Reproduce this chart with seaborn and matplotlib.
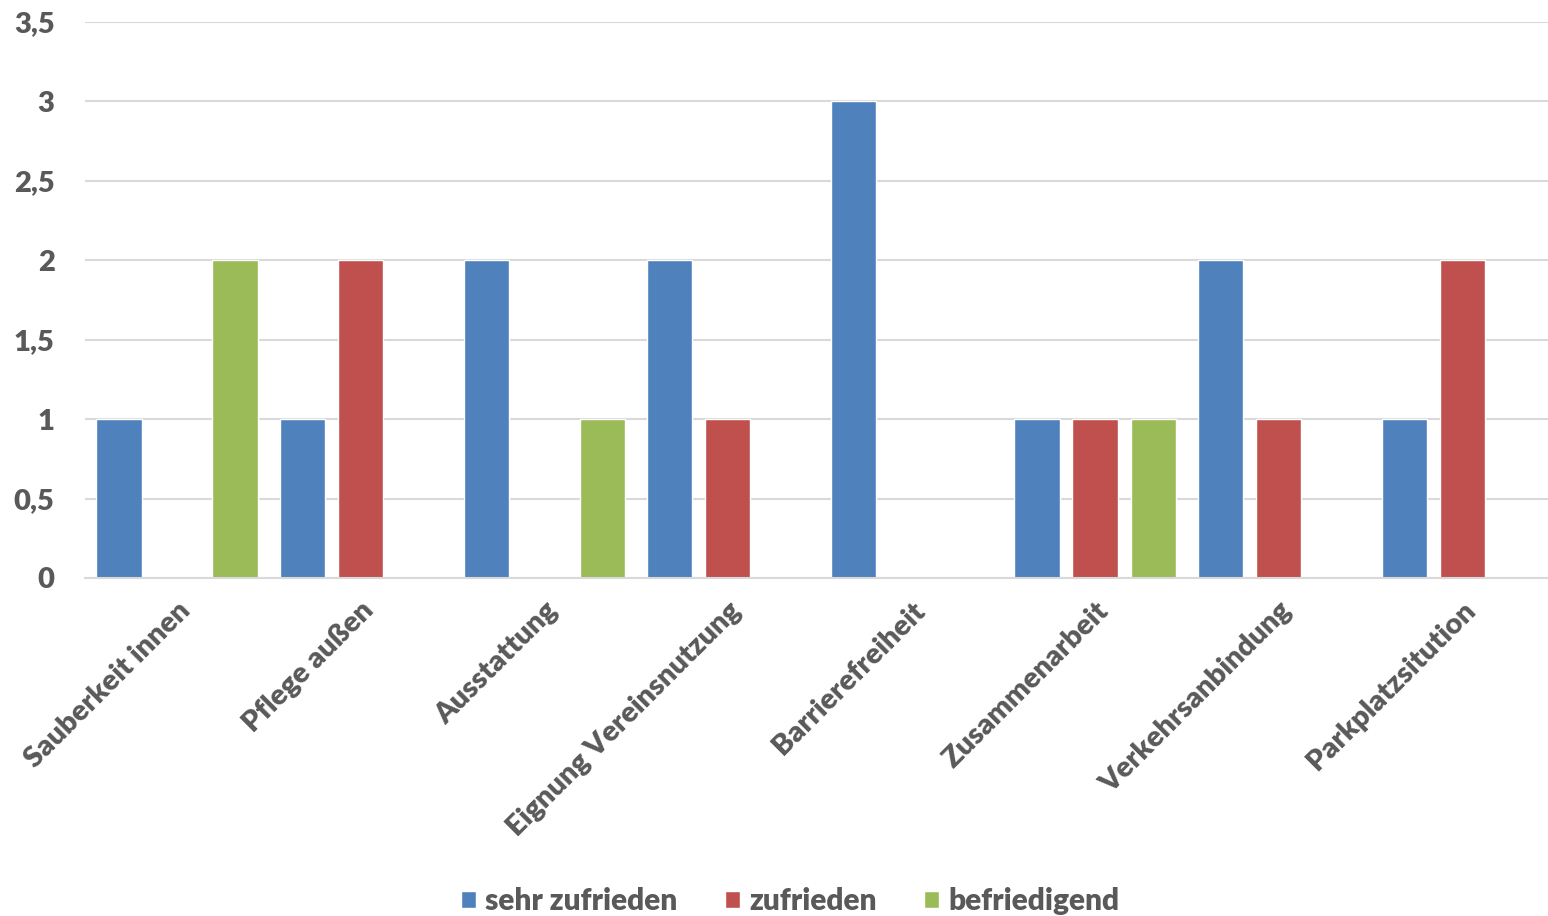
import seaborn as sns
import pandas as pd
import matplotlib.pyplot as plt

categories = ['Sauberkeit innen', 'Pflege außen', 'Ausstattung', 'Eignung Vereinsnutzung',
              'Barrierefreiheit', 'Zusammenarbeit', 'Verkehrsanbindung', 'Parkplatzsitution']
sehr_zufrieden = [1, 1, 2, 2, 3, 1, 2, 1]
zufrieden = [0, 2, 0, 1, 0, 1, 1, 2]
befriedigend = [2, 0, 1, 0, 0, 1, 0, 0]
series = ['sehr zufrieden', 'zufrieden', 'befriedigend']
colors = ['#4F81BD', '#C0504D', '#9BBB59']
yticks = [0, 0.5, 1, 1.5, 2, 2.5, 3, 3.5]
ytick_labels = ['0', '0,5', '1', '1,5', '2', '2,5', '3', '3,5']

rows = []
for name, vals in zip(series, [sehr_zufrieden, zufrieden, befriedigend]):
    for c, v in zip(categories, vals):
        rows.append({'Kategorie': c, 'Serie': name, 'Wert': v})
df = pd.DataFrame(rows)

sns.set_theme(style='white')
plt.rcParams['font.family'] = ['Lato', 'DejaVu Sans']
plt.rcParams['font.weight'] = 'heavy'

fig = plt.figure(figsize=(15.48, 9.16), dpi=100)
ax = fig.add_axes([0.055, 0.369, 0.949, 0.607])
ax.set_axisbelow(True)
ax.yaxis.grid(True, color='#D9D9D9', linewidth=1.5)

sns.barplot(data=df, x='Kategorie', y='Wert', hue='Serie', order=categories,
            hue_order=series, palette=colors, width=0.948, gap=0.22,
            saturation=1, errorbar=None, ax=ax)

ax.set_xlim(-0.5, 7.5)
ax.set_ylim(0, 3.5)
ax.set_yticks(yticks)
ax.set_yticklabels(ytick_labels)
ax.set_xlabel('')
ax.set_ylabel('')
for s in ['top', 'right', 'left']:
    ax.spines[s].set_visible(False)
ax.spines['bottom'].set_color('#D9D9D9')
ax.spines['bottom'].set_linewidth(1.5)
ax.tick_params(axis='both', length=0, colors='#595959', labelsize=21)
ax.tick_params(axis='y', pad=22)
ax.tick_params(axis='x', pad=14)
for lab in ax.get_yticklabels():
    lab.set_fontweight('heavy')
for lab in ax.get_xticklabels():
    lab.set_rotation(45)
    lab.set_ha('right')
    lab.set_rotation_mode('anchor')
    lab.set_fontweight('heavy')

handles, labels = ax.get_legend_handles_labels()
ax.legend(handles, labels, loc='lower center', bbox_to_anchor=(0.48, -0.655), ncol=3,
          frameon=False, fontsize=21.5, handlelength=0.5, handleheight=0.5,
          handletextpad=0.3, columnspacing=1.6, labelcolor='#595959',
          prop={'weight': 'heavy', 'size': 21.5})

fig.savefig('out.png', dpi=100)
